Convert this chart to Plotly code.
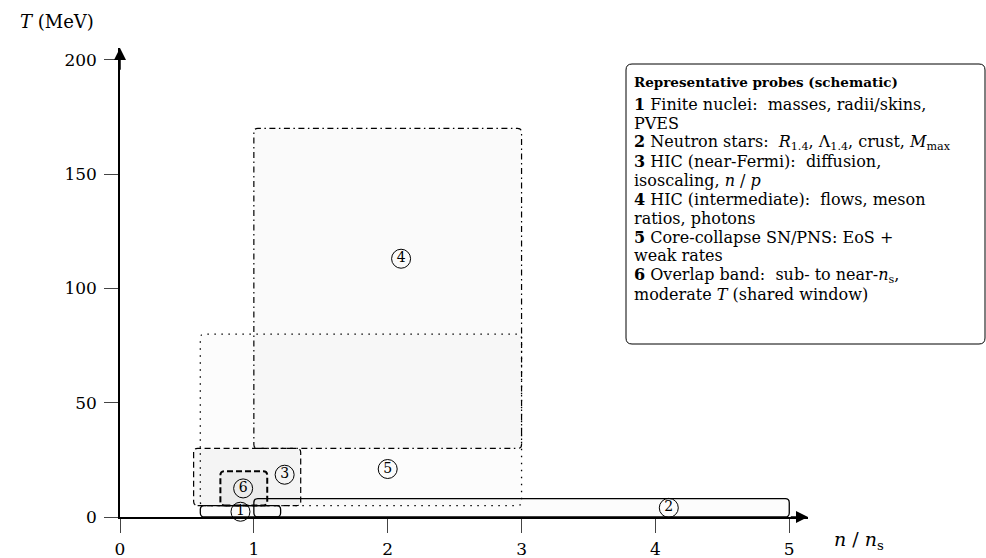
import plotly.graph_objects as go

# ---------------- data ----------------
probe_ids = ["1", "2", "3", "4", "5", "6"]
box_n_lo = [0.6, 1.0, 0.55, 1.0, 0.6, 0.75]
box_n_hi = [1.2, 5.0, 1.35, 3.0, 3.0, 1.10]
box_T_lo = [0.0, 0.0, 5.0, 30.0, 5.0, 5.0]
box_T_hi = [5.0, 8.0, 30.0, 170.0, 80.0, 20.0]
box_dash = ["solid", "solid", "6px,3.5px", "6px,3.5px,1.5px,3.5px", "1.5px,5.5px", "6px,3px"]
box_width = [1.3, 1.3, 1.2, 1.2, 1.3, 2.0]
box_fill = [0.012, 0.012, 0.03, 0.02, 0.01, 0.035]
label_n = [0.9, 4.1, 1.23, 2.1, 2.0, 0.92]
label_T = [2.3, 4.0, 18.5, 113.0, 21.0, 12.5]

x_ticks = [0, 1, 2, 3, 4, 5]
y_ticks = [0, 50, 100, 150, 200]

legend_title = "Representative probes (schematic)"
legend_lines = [
    "<b>1</b> Finite nuclei:  masses, radii/skins,",
    "PVES",
    "<b>2</b> Neutron stars:  <i>R</i><sub>1.4</sub>, Λ<sub>1.4</sub>, crust, <i>M</i><sub>max</sub>",
    "<b>3</b> HIC (near-Fermi):  diffusion,",
    "isoscaling, <i>n</i> / <i>p</i>",
    "<b>4</b> HIC (intermediate):  flows, meson",
    "ratios, photons",
    "<b>5</b> Core-collapse SN/PNS: EoS +",
    "weak rates",
    "<b>6</b> Overlap band:  sub- to near-<i>n</i><sub>s</sub>,",
    "moderate <i>T</i> (shared window)",
]

# ---------------- layout geometry ----------------
W, H = 986, 558
L, R, T, B = 120, 808, 48, 517
XMAX = 5.14
YMAX = 205.2
PXX = (R - L) / XMAX
PXY = (B - T) / YMAX
FONT = "DejaVu Serif"


def px2paper(px, py):
    return (px - L) / (R - L), (B - py) / (B - T)


def rrect_path(x0, x1, y0, y1, rx, ry):
    return (f"M{x0+rx},{y0} L{x1-rx},{y0} Q{x1},{y0} {x1},{y0+ry} "
            f"L{x1},{y1-ry} Q{x1},{y1} {x1-rx},{y1} L{x0+rx},{y1} "
            f"Q{x0},{y1} {x0},{y1-ry} L{x0},{y0+ry} Q{x0},{y0} {x0+rx},{y0} Z")


fig = go.Figure()

shapes = []
order = [4, 3, 2, 5, 1, 0]
r_px = 4
for i in order:
    shapes.append(dict(
        type="path", xref="x", yref="y",
        path=rrect_path(box_n_lo[i], box_n_hi[i], box_T_lo[i], box_T_hi[i], r_px / PXX, r_px / PXY),
        line=dict(color="black", width=box_width[i], dash=box_dash[i]),
        fillcolor=f"rgba(0,0,0,{box_fill[i]})", layer="above",
    ))

# legend box (paper coords)
lx0, ly0 = px2paper(626, 344)
lx1, ly1 = px2paper(985, 64)
rpx = 6
shapes.append(dict(
    type="path", xref="paper", yref="paper",
    path=rrect_path(lx0, lx1, ly0, ly1, rpx / (R - L), rpx / (B - T)),
    line=dict(color="black", width=1), fillcolor="white", layer="above",
))

fig.add_trace(go.Scatter(
    x=label_n, y=label_T, mode="markers+text",
    text=probe_ids, textposition="middle center",
    textfont=dict(family=FONT, size=14, color="black"),
    marker=dict(symbol="circle", size=19, color="white", line=dict(color="black", width=1)),
    hoverinfo="skip", showlegend=False, cliponaxis=False,
))

annotations = []
# axis arrows
annotations.append(dict(x=0, y=YMAX, ax=0, ay=195, xref="x", yref="y", axref="x", ayref="y",
                        showarrow=True, arrowhead=2, arrowsize=1.6, arrowwidth=1.5, arrowcolor="black", text=""))
annotations.append(dict(x=XMAX, y=0, ax=5.0, ay=0, xref="x", yref="y", axref="x", ayref="y",
                        showarrow=True, arrowhead=2, arrowsize=1.6, arrowwidth=1.5, arrowcolor="black", text=""))
# axis titles
tx, ty = px2paper(18, 22)
annotations.append(dict(x=tx, y=ty, xref="paper", yref="paper", xanchor="left", yanchor="middle",
                        text="<i>T</i> (MeV)", showarrow=False, font=dict(family=FONT, size=18, color="black")))
nx, ny = px2paper(832, 540)
annotations.append(dict(x=nx, y=ny, xref="paper", yref="paper", xanchor="left", yanchor="middle",
                        text="<i>n</i> / <i>n</i><sub>s</sub>", showarrow=False,
                        font=dict(family=FONT, size=19, color="black")))
# legend text
gx, gy = px2paper(632, 82)
annotations.append(dict(x=gx, y=gy, xref="paper", yref="paper", xanchor="left", yanchor="middle",
                        text="<b>" + legend_title + "</b>", showarrow=False,
                        font=dict(family=FONT, size=13.5, color="black")))
for k, line in enumerate(legend_lines):
    lx, ly = px2paper(632, 104 + 19 * k)
    annotations.append(dict(x=lx, y=ly, xref="paper", yref="paper", xanchor="left", yanchor="middle",
                            text=line, showarrow=False, font=dict(family=FONT, size=16, color="black")))

fig.update_layout(
    width=W, height=H,
    margin=dict(l=L, r=W - R, t=T, b=H - B, pad=0, autoexpand=False),
    plot_bgcolor="white", paper_bgcolor="white",
    shapes=shapes, annotations=annotations,
    xaxis=dict(range=[0, XMAX], showgrid=False, zeroline=False, showline=True, linecolor="black",
               linewidth=1.5, ticks="outside", ticklen=14, tickcolor="#444", tickwidth=1,
               tickvals=x_ticks, ticktext=[str(v) for v in x_ticks], automargin=False,
               tickfont=dict(family=FONT, size=17, color="black"), ticklabelstandoff=2),
    yaxis=dict(range=[0, YMAX], showgrid=False, zeroline=False, showline=True, linecolor="black",
               linewidth=1.5, ticks="outside", ticklen=14, tickcolor="#444", tickwidth=1,
               tickvals=y_ticks, ticktext=[str(v) for v in y_ticks], automargin=False,
               tickfont=dict(family=FONT, size=17, color="black"), ticklabelstandoff=4),
)

fig.write_html("out.html")
